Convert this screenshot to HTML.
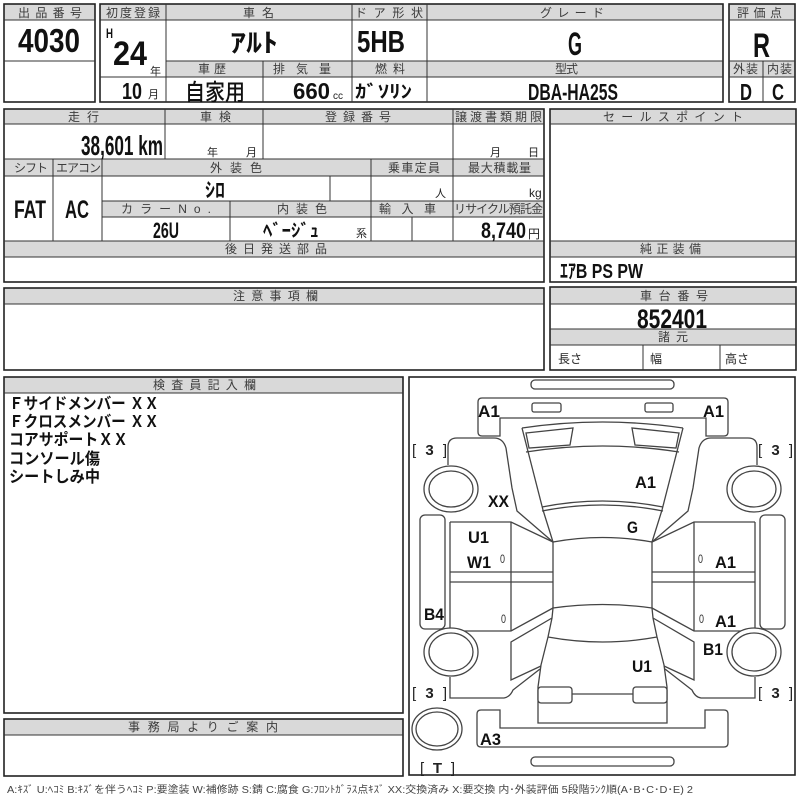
<!DOCTYPE html>
<html><head><meta charset="utf-8"><style>
html,body{margin:0;padding:0;background:#fff}
svg{display:block}
.h{font-family:"Liberation Sans","Noto Sans CJK JP",sans-serif;font-size:12px;fill:#3c3c3c}
.v{font-family:"Liberation Sans","Noto Sans CJK JP",sans-serif;font-weight:bold;fill:#111}
.u{font-family:"Liberation Sans","Noto Sans CJK JP",sans-serif;fill:#222}
.o{fill:none;stroke:#222;stroke-width:1.6}
.l{stroke:#333;stroke-width:1;fill:none}
.g{fill:#d9d9d9}
.c{fill:none;stroke:#444;stroke-width:1.3}
.s{font-family:"Liberation Sans",sans-serif;font-weight:bold;font-size:17px;fill:#111}
.b{font-family:"Liberation Sans",sans-serif;font-size:15px;fill:#222}
.z{font-family:"Liberation Sans",sans-serif;font-size:12px;fill:#333}
.t{font-family:"Liberation Sans","Noto Sans CJK JP",sans-serif;font-weight:bold;font-size:16px;fill:#111}
</style></head><body>
<svg width="800" height="800" viewBox="0 0 800 800" xmlns="http://www.w3.org/2000/svg">
<rect x="0" y="0" width="800" height="800" fill="#fff"/>

<!-- Top-left box -->
<rect class="g" x="4" y="4" width="91" height="16"/>
<rect class="o" x="4" y="4" width="91" height="98"/>
<line class="l" x1="4" y1="20" x2="95" y2="20"/>
<line class="l" x1="4" y1="61" x2="95" y2="61"/>
<text class="h" x="18" y="17" textLength="64">出品番号</text>
<text class="v" x="18" y="52" font-size="33" textLength="62" lengthAdjust="spacingAndGlyphs">4030</text>

<!-- Top main box -->
<rect class="g" x="100" y="4" width="623" height="16"/>
<rect class="g" x="166" y="61" width="557" height="16"/>
<rect class="o" x="100" y="4" width="623" height="98"/>
<line class="l" x1="100" y1="20" x2="723" y2="20"/>
<line class="l" x1="166" y1="61" x2="723" y2="61"/>
<line class="l" x1="100" y1="77" x2="723" y2="77"/>
<line class="l" x1="166" y1="4" x2="166" y2="102"/>
<line class="l" x1="352" y1="4" x2="352" y2="102"/>
<line class="l" x1="427" y1="4" x2="427" y2="102"/>
<line class="l" x1="263" y1="61" x2="263" y2="102"/>
<text class="h" x="106" y="17" textLength="54">初度登録</text>
<text class="h" x="243" y="17" textLength="31">車名</text>
<text class="h" x="355" y="17" textLength="68">ドア形状</text>
<text class="h" x="540" y="17" textLength="64">グレード</text>
<text class="h" x="198" y="73" textLength="28">車歴</text>
<text class="h" x="273" y="73" textLength="58">排気量</text>
<text class="h" x="375" y="73" textLength="30">燃料</text>
<text class="h" x="555" y="73" textLength="23">型式</text>
<text class="v" x="106" y="38" font-size="14" textLength="7" lengthAdjust="spacingAndGlyphs">H</text>
<text class="v" x="113" y="65" font-size="34" textLength="34" lengthAdjust="spacingAndGlyphs">24</text>
<text class="u" x="150" y="75" font-size="11">年</text>
<text class="v" x="122" y="99" font-size="23" textLength="20" lengthAdjust="spacingAndGlyphs">10</text>
<text class="u" x="148" y="98" font-size="11">月</text>
<text class="v" x="230" y="52" font-size="26" textLength="48" lengthAdjust="spacingAndGlyphs">ｱﾙﾄ</text>
<text class="v" x="357" y="52" font-size="31" textLength="48" lengthAdjust="spacingAndGlyphs">5HB</text>
<text class="v" x="568" y="55" font-size="32" textLength="14" lengthAdjust="spacingAndGlyphs">G</text>
<text class="v" x="185" y="100" font-size="23" textLength="60" lengthAdjust="spacingAndGlyphs" font-weight="normal" style="font-weight:500">自家用</text>
<text class="v" x="293" y="99" font-size="23" textLength="37" lengthAdjust="spacingAndGlyphs">660</text>
<text class="u" x="333" y="99" font-size="10">cc</text>
<text class="v" x="355" y="98" font-size="18" textLength="57" lengthAdjust="spacingAndGlyphs">ｶﾞｿﾘﾝ</text>
<text class="v" x="528" y="100" font-size="23" textLength="90" lengthAdjust="spacingAndGlyphs">DBA-HA25S</text>

<!-- Score box -->
<rect class="g" x="729" y="4" width="66" height="16"/>
<rect class="g" x="729" y="61" width="66" height="16"/>
<rect class="o" x="729" y="4" width="66" height="98"/>
<line class="l" x1="729" y1="20" x2="795" y2="20"/>
<line class="l" x1="729" y1="61" x2="795" y2="61"/>
<line class="l" x1="729" y1="77" x2="795" y2="77"/>
<line class="l" x1="763" y1="61" x2="763" y2="102"/>
<text class="h" x="737" y="17" textLength="45">評価点</text>
<text class="h" x="733" y="73" textLength="25">外装</text>
<text class="h" x="767" y="73" textLength="25">内装</text>
<text class="v" x="753" y="57" font-size="34" textLength="17" lengthAdjust="spacingAndGlyphs">R</text>
<text class="v" x="740" y="100" font-size="23" textLength="12" lengthAdjust="spacingAndGlyphs">D</text>
<text class="v" x="772" y="100" font-size="23" textLength="12" lengthAdjust="spacingAndGlyphs">C</text>

<!-- Second block left -->
<rect class="g" x="4" y="109" width="540" height="15"/>
<rect class="g" x="4" y="159" width="540" height="17"/>
<rect class="g" x="102" y="201" width="442" height="16"/>
<rect class="g" x="4" y="241" width="540" height="16"/>
<rect class="o" x="4" y="109" width="540" height="173"/>
<line class="l" x1="4" y1="124" x2="544" y2="124"/>
<line class="l" x1="4" y1="159" x2="544" y2="159"/>
<line class="l" x1="4" y1="176" x2="544" y2="176"/>
<line class="l" x1="102" y1="201" x2="544" y2="201"/>
<line class="l" x1="102" y1="217" x2="544" y2="217"/>
<line class="l" x1="4" y1="241" x2="544" y2="241"/>
<line class="l" x1="4" y1="257" x2="544" y2="257"/>
<line class="l" x1="165" y1="109" x2="165" y2="159"/>
<line class="l" x1="263" y1="109" x2="263" y2="159"/>
<line class="l" x1="453" y1="109" x2="453" y2="241"/>
<line class="l" x1="53" y1="159" x2="53" y2="241"/>
<line class="l" x1="102" y1="159" x2="102" y2="241"/>
<line class="l" x1="371" y1="159" x2="371" y2="241"/>
<line class="l" x1="330" y1="176" x2="330" y2="201"/>
<line class="l" x1="230" y1="201" x2="230" y2="241"/>
<line class="l" x1="412" y1="217" x2="412" y2="241"/>
<text class="h" x="68" y="121" textLength="31">走行</text>
<text class="h" x="200" y="121" textLength="31">車検</text>
<text class="h" x="325" y="121" textLength="66">登録番号</text>
<text class="h" x="455" y="121" textLength="87">譲渡書類期限</text>
<text class="h" x="14" y="172" textLength="34">シフト</text>
<text class="h" x="56" y="172" textLength="45">エアコン</text>
<text class="h" x="210" y="172" textLength="52">外装色</text>
<text class="h" x="388" y="172" textLength="52">乗車定員</text>
<text class="h" x="468" y="172" textLength="63">最大積載量</text>
<text class="h" x="121" y="213" textLength="90">カラーNo.</text>
<text class="h" x="277" y="213" textLength="50">内装色</text>
<text class="h" x="379" y="213" textLength="57">輸入車</text>
<text class="h" x="454" y="213" textLength="89">リサイクル預託金</text>
<text class="h" x="225" y="253" textLength="102">後日発送部品</text>
<text class="v" x="81" y="155" font-size="28" textLength="82" lengthAdjust="spacingAndGlyphs">38,601 km</text>
<text class="u" x="207" y="156" font-size="11">年</text>
<text class="u" x="246" y="156" font-size="11">月</text>
<text class="u" x="490" y="156" font-size="11">月</text>
<text class="u" x="528" y="156" font-size="11">日</text>
<text class="v" x="205" y="197" font-size="20" textLength="20" lengthAdjust="spacingAndGlyphs">ｼﾛ</text>
<text class="u" x="435" y="197" font-size="11">人</text>
<text class="u" x="529" y="197" font-size="12">kg</text>
<text class="v" x="14" y="218" font-size="25" textLength="32" lengthAdjust="spacingAndGlyphs">FAT</text>
<text class="v" x="65" y="218" font-size="25" textLength="24" lengthAdjust="spacingAndGlyphs">AC</text>
<text class="v" x="153" y="238" font-size="22" textLength="26" lengthAdjust="spacingAndGlyphs">26U</text>
<text class="v" x="263" y="237" font-size="18" textLength="56" lengthAdjust="spacingAndGlyphs">ﾍﾞｰｼﾞｭ</text>
<text class="u" x="356" y="237" font-size="11">系</text>
<text class="v" x="481" y="238" font-size="22" textLength="45" lengthAdjust="spacingAndGlyphs">8,740</text>
<text class="u" x="528" y="238" font-size="12">円</text>

<!-- Second block right -->
<rect class="g" x="550" y="109" width="246" height="15"/>
<rect class="g" x="550" y="241" width="246" height="16"/>
<rect class="o" x="550" y="109" width="246" height="173"/>
<line class="l" x1="550" y1="124" x2="796" y2="124"/>
<line class="l" x1="550" y1="241" x2="796" y2="241"/>
<line class="l" x1="550" y1="257" x2="796" y2="257"/>
<text class="h" x="603" y="121" textLength="140">セールスポイント</text>
<text class="h" x="640" y="253" textLength="61">純正装備</text>
<text class="v" x="560" y="278" font-size="20" textLength="83" lengthAdjust="spacingAndGlyphs">ｴｱB PS PW</text>

<!-- Notes -->
<rect class="g" x="4" y="288" width="540" height="16"/>
<rect class="o" x="4" y="288" width="540" height="82"/>
<line class="l" x1="4" y1="304" x2="544" y2="304"/>
<text class="h" x="233" y="300" textLength="85">注意事項欄</text>

<!-- Chassis -->
<rect class="g" x="550" y="287" width="246" height="17"/>
<rect class="g" x="550" y="329" width="246" height="16"/>
<rect class="o" x="550" y="287" width="246" height="83"/>
<line class="l" x1="550" y1="304" x2="796" y2="304"/>
<line class="l" x1="550" y1="329" x2="796" y2="329"/>
<line class="l" x1="550" y1="345" x2="796" y2="345"/>
<line class="l" x1="643" y1="345" x2="643" y2="370"/>
<line class="l" x1="720" y1="345" x2="720" y2="370"/>
<text class="h" x="640" y="300" textLength="68">車台番号</text>
<text class="h" x="658" y="341" textLength="30">諸元</text>
<text class="v" x="637" y="328" font-size="27" textLength="70" lengthAdjust="spacingAndGlyphs">852401</text>
<text class="u" x="558" y="363" font-size="12">長さ</text>
<text class="u" x="650" y="363" font-size="12">幅</text>
<text class="u" x="725" y="363" font-size="12">高さ</text>

<!-- Inspector box -->
<rect class="g" x="4" y="377" width="399" height="16"/>
<rect class="o" x="4" y="377" width="399" height="336"/>
<line class="l" x1="4" y1="393" x2="403" y2="393"/>
<text class="h" x="153" y="389" textLength="103">検査員記入欄</text>
<text class="t" x="9" y="409" textLength="150" lengthAdjust="spacingAndGlyphs">Ｆサイドメンバー ＸＸ</text>
<text class="t" x="9" y="427" textLength="150" lengthAdjust="spacingAndGlyphs">Ｆクロスメンバー ＸＸ</text>
<text class="t" x="9" y="445" textLength="119" lengthAdjust="spacingAndGlyphs">コアサポートＸＸ</text>
<text class="t" x="9" y="464" textLength="91" lengthAdjust="spacingAndGlyphs">コンソール傷</text>
<text class="t" x="9" y="482" textLength="91" lengthAdjust="spacingAndGlyphs">シートしみ中</text>

<!-- Office box -->
<rect class="g" x="4" y="719" width="399" height="16"/>
<rect class="o" x="4" y="719" width="399" height="57"/>
<line class="l" x1="4" y1="735" x2="403" y2="735"/>
<text class="h" x="128" y="731" textLength="150">事務局よりご案内</text>

<!-- Car box -->
<rect class="o" x="409" y="377" width="386" height="398"/>
<g class="c">
  <rect x="531" y="380" width="143" height="9" rx="4"/>
  <path d="M482,398 H724 Q728,398 728,402 V432 Q728,436 724,436 H706 V418 H500 V436 H482 Q478,436 478,432 V402 Q478,398 482,398 Z"/>
  <rect x="532" y="403" width="29" height="9" rx="2"/>
  <rect x="645" y="403" width="28" height="9" rx="2"/>
  <path d="M522,428 Q602.5,416 683,428"/>
  <path d="M526,433 L573,428 L570,445 L529,448 Z"/>
  <path d="M679,433 L632,428 L635,445 L676,448 Z"/>
  <path d="M526,452 Q602.5,440 679,452"/>
  <path d="M522,428 L543,510"/>
  <path d="M683,428 L662,510"/>
  <path d="M542,507 Q602.5,495 663,507"/>
  <path d="M542,511 Q602.5,499 663,511"/>
  <path d="M543,510 L553,542"/>
  <path d="M662,510 L652,542"/>
  <path d="M553,542 Q602.5,533 652,542"/>
  <!-- front fenders -->
  <path d="M448,465 V447 Q448,438 457,438 H494 Q503,438 506,448 L512,488 L517,511 L553,542"/>
  <path d="M757,465 V447 Q757,438 748,438 H711 Q702,438 699,448 L693,488 L688,511 L652,542"/>
  <!-- roof -->
  <line x1="553" y1="542" x2="553" y2="608"/>
  <line x1="652" y1="542" x2="652" y2="608"/>
  <path d="M553,608 Q602.5,601 652,608"/>
  <path d="M548,637 Q602.5,647 657,637"/>
  <!-- left doors -->
  <path d="M450,522 H511 L553,542"/>
  <line x1="450" y1="522" x2="450" y2="631"/>
  <line x1="511" y1="522" x2="511" y2="631"/>
  <line x1="450" y1="572" x2="553" y2="572"/>
  <line x1="450" y1="582" x2="553" y2="582"/>
  <path d="M450,631 H511 L553,608"/>
  <!-- right doors -->
  <path d="M755,522 H694 L652,542"/>
  <line x1="755" y1="522" x2="755" y2="631"/>
  <line x1="694" y1="522" x2="694" y2="631"/>
  <line x1="652" y1="572" x2="755" y2="572"/>
  <line x1="652" y1="582" x2="755" y2="582"/>
  <path d="M755,631 H694 L652,608"/>
  <!-- rockers -->
  <rect x="420" y="515" width="25" height="114" rx="5"/>
  <rect x="760" y="515" width="25" height="114" rx="5"/>
  <!-- rear quarter -->
  <path d="M553,608 L552,618 L548,637 L541,665 L538,687 V723 H667 V687 L664,665 L657,637 L653,618 L652,608"/>
  <path d="M552,618 L511,642 L511,680 L541,666"/>
  <path d="M653,618 L694,642 L694,680 L664,666"/>
  <path d="M450,677 V698 H504 Q510,697 513,690 L540,669"/>
  <path d="M755,677 V698 H701 Q695,697 692,690 L665,669"/>
  <rect x="538" y="687" width="34" height="16" rx="3" fill="#fff"/>
  <rect x="633" y="687" width="34" height="16" rx="3" fill="#fff"/>
  <line x1="572" y1="694" x2="633" y2="694"/>
  <!-- rear bumper -->
  <path d="M481,710 H500 V728 H705 V710 H724 Q728,710 728,714 V743 Q728,747 724,747 H481 Q477,747 477,743 V714 Q477,710 481,710 Z"/>
  <rect x="531" y="757" width="143" height="9" rx="4"/>
  <!-- wheels -->
  <ellipse cx="451" cy="489" rx="27" ry="23" fill="#fff"/>
  <ellipse cx="451" cy="489" rx="22" ry="18"/>
  <ellipse cx="754" cy="489" rx="27" ry="23" fill="#fff"/>
  <ellipse cx="754" cy="489" rx="22" ry="18"/>
  <ellipse cx="451" cy="652" rx="27" ry="24" fill="#fff"/>
  <ellipse cx="451" cy="652" rx="22" ry="19"/>
  <ellipse cx="754" cy="652" rx="27" ry="24" fill="#fff"/>
  <ellipse cx="754" cy="652" rx="22" ry="19"/>
  <ellipse cx="437" cy="729" rx="25" ry="21"/>
  <ellipse cx="437" cy="729" rx="21" ry="17"/>
</g>
<!-- car labels -->
<text class="s" x="478" y="417" textLength="22" lengthAdjust="spacingAndGlyphs">A1</text>
<text class="s" x="703" y="417" textLength="21" lengthAdjust="spacingAndGlyphs">A1</text>
<text class="b" x="412" y="455" textLength="35">[ <tspan font-weight="bold">3</tspan> ]</text>
<text class="b" x="758" y="455" textLength="35">[ <tspan font-weight="bold">3</tspan> ]</text>
<text class="s" x="488" y="507" textLength="21" lengthAdjust="spacingAndGlyphs">XX</text>
<text class="s" x="635" y="488" textLength="21" lengthAdjust="spacingAndGlyphs">A1</text>
<text class="s" x="627" y="533" textLength="11" lengthAdjust="spacingAndGlyphs">G</text>
<text class="s" x="468" y="543" textLength="21" lengthAdjust="spacingAndGlyphs">U1</text>
<text class="s" x="467" y="568" textLength="24" lengthAdjust="spacingAndGlyphs">W1</text>
<text class="z" x="500" y="563" textLength="5" lengthAdjust="spacingAndGlyphs">0</text>
<text class="z" x="698" y="563" textLength="5" lengthAdjust="spacingAndGlyphs">0</text>
<text class="s" x="715" y="568" textLength="21" lengthAdjust="spacingAndGlyphs">A1</text>
<text class="s" x="424" y="620" textLength="20" lengthAdjust="spacingAndGlyphs">B4</text>
<text class="z" x="501" y="623" textLength="5" lengthAdjust="spacingAndGlyphs">0</text>
<text class="z" x="699" y="623" textLength="5" lengthAdjust="spacingAndGlyphs">0</text>
<text class="s" x="715" y="627" textLength="21" lengthAdjust="spacingAndGlyphs">A1</text>
<text class="s" x="703" y="655" textLength="20" lengthAdjust="spacingAndGlyphs">B1</text>
<text class="s" x="632" y="672" textLength="20" lengthAdjust="spacingAndGlyphs">U1</text>
<text class="b" x="412" y="698" textLength="35">[ <tspan font-weight="bold">3</tspan> ]</text>
<text class="b" x="758" y="698" textLength="35">[ <tspan font-weight="bold">3</tspan> ]</text>
<text class="s" x="480" y="745" textLength="21" lengthAdjust="spacingAndGlyphs">A3</text>
<text class="b" x="420" y="773" textLength="35">[ <tspan font-weight="bold">T</tspan> ]</text>

<!-- legend -->
<text x="7" y="793" font-family="'Liberation Sans','Noto Sans CJK JP',sans-serif" font-size="10" fill="#444" textLength="686" lengthAdjust="spacingAndGlyphs">A:ｷｽﾞ U:ﾍｺﾐ B:ｷｽﾞを伴うﾍｺﾐ P:要塗装 W:補修跡 S:錆 C:腐食 G:ﾌﾛﾝﾄｶﾞﾗｽ点ｷｽﾞ XX:交換済み X:要交換 内･外装評価 5段階ﾗﾝｸ順(A･B･C･D･E) 2</text>
</svg>
</body></html>
